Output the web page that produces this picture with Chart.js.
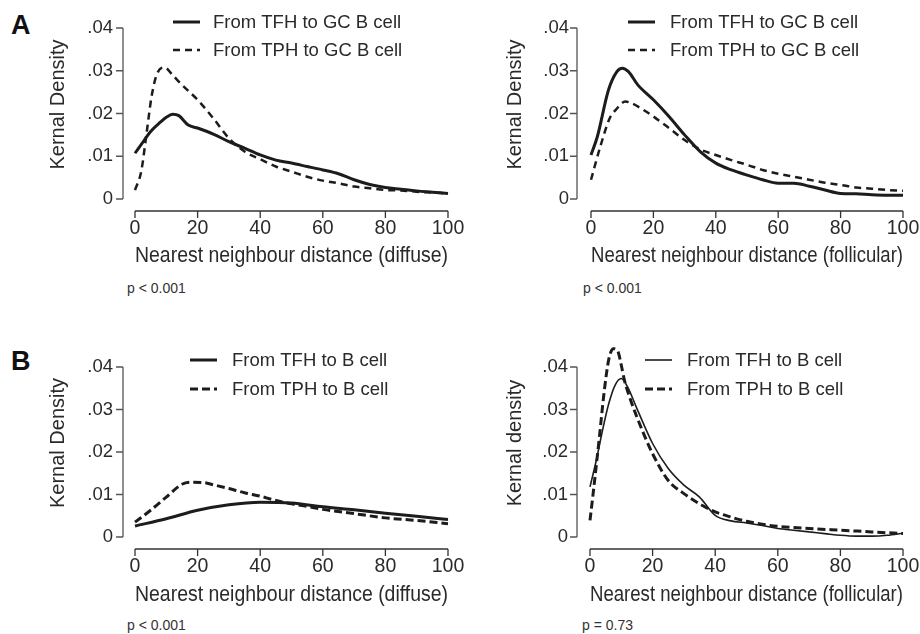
<!DOCTYPE html>
<html>
<head>
<meta charset="utf-8">
<script src="https://cdn.jsdelivr.net/npm/chart.js@4.4.1/dist/chart.umd.min.js"></script>
<style>
  html, body { margin: 0; padding: 0; background: #fff; overflow: hidden; }
  #page { position: relative; width: 920px; height: 634px; font-family: 'Liberation Sans', Arial, sans-serif; color: #222; }
  .panel { position: absolute; }
  .letter { position: absolute; font-weight: bold; font-size: 27px; line-height: 27px; color: #111; }
  .pval { position: absolute; font-size: 14px; line-height: 14px; color: #333; }
</style>
</head>
<body>
<div id="page">
  <div class="letter" style="left:11px; top:12px;">A</div>
  <div class="letter" style="left:11px; top:348px;">B</div>
  <div class="pval" style="left:127px; top:281px;">p &lt; 0.001</div>
  <div class="pval" style="left:583px; top:281px;">p &lt; 0.001</div>
  <div class="pval" style="left:127px; top:618px;">p &lt; 0.001</div>
  <div class="pval" style="left:582px; top:618px;">p = 0.73</div>
</div>
<script>
// ---- data (distance, kernel density) ----
const xTicks = [0, 20, 40, 60, 80, 100];
const yTicks = [0, 0.01, 0.02, 0.03, 0.04];

// A, diffuse: TFH -> GC B cell (solid)
const aDiffTfhX = [0, 3, 5, 8, 10, 12, 14, 17, 20, 25, 30, 35, 40, 45, 50, 55, 60, 65, 70, 75, 80, 85, 90, 95, 100];
const aDiffTfhY = [0.0107, 0.0138, 0.0158, 0.0179, 0.0191, 0.0198, 0.0195, 0.0173, 0.0166, 0.0152, 0.0134, 0.0119, 0.0103, 0.0091, 0.0084, 0.0076, 0.0068, 0.0059, 0.0045, 0.0034, 0.0027, 0.0023, 0.0019, 0.0016, 0.0013];
// A, diffuse: TPH -> GC B cell (dashed)
const aDiffTphX = [0, 2, 3.7, 5.3, 7, 9.4, 12, 15, 20, 25, 30, 35, 40, 45, 50, 55, 60, 65, 70, 75, 80, 85, 90, 95, 100];
const aDiffTphY = [0.0021, 0.0065, 0.0154, 0.024, 0.0292, 0.0308, 0.029, 0.0267, 0.0232, 0.0189, 0.0142, 0.0111, 0.0093, 0.0076, 0.0064, 0.0052, 0.0043, 0.0037, 0.0029, 0.0025, 0.0021, 0.002, 0.0017, 0.0015, 0.0013];

// A, follicular
const aFolTfhX = [0, 2, 5.6, 8.3, 10, 12, 15, 20, 25, 30, 35, 40, 45, 50, 55, 60, 65, 70, 75, 80, 85, 90, 95, 100];
const aFolTfhY = [0.0103, 0.0145, 0.0255, 0.0298, 0.0306, 0.0298, 0.0267, 0.0232, 0.0193, 0.015, 0.0111, 0.0084, 0.0068, 0.0056, 0.0045, 0.0037, 0.0037, 0.003, 0.0021, 0.0013, 0.0012, 0.001, 0.0009, 0.0009];
const aFolTphX = [0, 3, 6, 8, 11, 13, 16, 20, 25, 30, 35, 40, 45, 50, 55, 60, 65, 70, 75, 80, 85, 90, 95, 100];
const aFolTphY = [0.0045, 0.0123, 0.0189, 0.0209, 0.0228, 0.0224, 0.0212, 0.0193, 0.0166, 0.0138, 0.0116, 0.0103, 0.0091, 0.008, 0.0068, 0.0059, 0.0052, 0.0045, 0.0038, 0.0033, 0.0027, 0.0024, 0.0021, 0.0019];

// B, diffuse: TFH/TPH -> B cell
const bDiffTfhX = [0, 10, 20, 30, 40, 50, 60, 70, 80, 90, 100];
const bDiffTfhY = [0.0026, 0.0043, 0.0063, 0.0076, 0.0082, 0.008, 0.0071, 0.0064, 0.0056, 0.0049, 0.0041];
const bDiffTphX = [0, 5, 10, 15, 18, 22, 25, 30, 35, 40, 45, 50, 55, 60, 70, 80, 90, 100];
const bDiffTphY = [0.0035, 0.0063, 0.0094, 0.0124, 0.0129, 0.0128, 0.0123, 0.0114, 0.0104, 0.0096, 0.0086, 0.0078, 0.0072, 0.0065, 0.0055, 0.0045, 0.0039, 0.0031];

// B, follicular
const bFolTfhX = [0, 2, 4, 6, 8, 10, 12, 15, 20, 25, 30, 35, 40, 45, 50, 55, 60, 65, 70, 75, 80, 85, 90, 95, 100];
const bFolTfhY = [0.0118, 0.018, 0.0251, 0.0314, 0.0357, 0.0373, 0.0353, 0.0302, 0.022, 0.0161, 0.0122, 0.0094, 0.0051, 0.0038, 0.0033, 0.0027, 0.002, 0.0016, 0.0012, 0.0008, 0.0004, 0.0002, 0.0002, 0.0004, 0.0009];
const bFolTphX = [0, 1, 3, 4.5, 6, 7.5, 9, 10, 11, 13, 15, 20, 25, 30, 35, 40, 45, 50, 55, 60, 70, 80, 90, 100];
const bFolTphY = [0.0039, 0.0102, 0.0235, 0.034, 0.0418, 0.0443, 0.0435, 0.0404, 0.0369, 0.0322, 0.0282, 0.0196, 0.0133, 0.0102, 0.0078, 0.0059, 0.0047, 0.0037, 0.003, 0.0025, 0.002, 0.0016, 0.0012, 0.0008];

const INK = '#1c1c1c';
const AXIS = '#555';
const FONT = "'Liberation Sans', Arial, sans-serif";

function pts(xs, ys) {
    return xs.map((x, i) => ({ x, y: ys[i] }));
}

function fmtDensity(v) {
    if (Math.abs(v) < 1e-9) return '0';
    return v.toFixed(2).replace(/^0/, '');
}

// no label overflow padding: the plot area is set by hand
function noPad(s) {
    s.paddingLeft = 0;
    s.paddingRight = 0;
    s.paddingTop = 0;
    s.paddingBottom = 0;
}

// Stata-like detached axes, y title and in-plot legend
const stataPlugin = {
    id: 'stata',
    afterDraw(chart, args, opts) {
        const { ctx, chartArea: area } = chart;
        const xs = chart.scales.x;
        const ys = chart.scales.y;
        ctx.save();

        // y axis
        const ax = area.left - opts.yOffset;
        ctx.strokeStyle = AXIS;
        ctx.lineWidth = 1.3;
        ctx.beginPath();
        ctx.moveTo(ax, ys.getPixelForValue(yTicks[yTicks.length - 1]));
        ctx.lineTo(ax, ys.getPixelForValue(0));
        yTicks.forEach((t) => {
            const py = ys.getPixelForValue(t);
            ctx.moveTo(ax, py);
            ctx.lineTo(ax - 7, py);
        });
        ctx.stroke();

        // x axis
        const ay = area.bottom + opts.xOffset;
        ctx.strokeStyle = '#333';
        ctx.beginPath();
        ctx.moveTo(xs.getPixelForValue(0), ay);
        ctx.lineTo(xs.getPixelForValue(100), ay);
        xTicks.forEach((t) => {
            const px = xs.getPixelForValue(t);
            ctx.moveTo(px, ay);
            ctx.lineTo(px, ay + 7);
        });
        ctx.stroke();

        // y title
        ctx.fillStyle = '#2a2a2a';
        ctx.font = `20px ${FONT}`;
        ctx.textAlign = 'center';
        ctx.textBaseline = 'middle';
        ctx.translate(opts.yTitleX, (area.top + area.bottom) / 2 - 9);
        ctx.rotate(-Math.PI / 2);
        ctx.fillText(opts.yTitle, 0, 0);
        ctx.restore();

        // legend
        ctx.save();
        const lg = opts.legend;
        chart.data.datasets.forEach((ds, i) => {
            const y = lg.y[i];
            ctx.strokeStyle = INK;
            ctx.lineWidth = ds.borderWidth;
            ctx.setLineDash(ds.borderDash || []);
            ctx.beginPath();
            ctx.moveTo(lg.x1, y);
            ctx.lineTo(lg.x2, y);
            ctx.stroke();
            ctx.setLineDash([]);
            ctx.fillStyle = '#2a2a2a';
            ctx.font = `18.5px ${FONT}`;
            ctx.textAlign = 'left';
            ctx.textBaseline = 'middle';
            ctx.fillText(ds.label, lg.tx, y + 1);
        });
        ctx.restore();
    }
};

// left panels are a little wider than half so the "100" label is not cut;
// the right panels sit on top with a transparent canvas
const panels = [
    {
        left: 0, top: 0, w: 475, h: 295,
        area: { l: 135, r: 448, t: 28, b: 199 },
        xTitle: 'Nearest neighbour distance (diffuse)', yTitle: 'Kernal Density', yTitleX: 58,
        yOffset: 12, legend: { x1: 173, x2: 200, tx: 213, y: [22, 50] },
        series: [
            { label: 'From TFH to GC B cell', data: pts(aDiffTfhX, aDiffTfhY), width: 3, dash: [] },
            { label: 'From TPH to GC B cell', data: pts(aDiffTphX, aDiffTphY), width: 2.5, dash: [7, 5] }
        ]
    },
    {
        left: 460, top: 0, w: 460, h: 295,
        area: { l: 131, r: 443, t: 28, b: 199 },
        xTitle: 'Nearest neighbour distance (follicular)', yTitle: 'Kernal Density', yTitleX: 55,
        yOffset: 14, legend: { x1: 168, x2: 195, tx: 210, y: [22, 50] },
        series: [
            { label: 'From TFH to GC B cell', data: pts(aFolTfhX, aFolTfhY), width: 3, dash: [] },
            { label: 'From TPH to GC B cell', data: pts(aFolTphX, aFolTphY), width: 2.5, dash: [7, 5] }
        ]
    },
    {
        left: 0, top: 339, w: 475, h: 295,
        area: { l: 135, r: 448, t: 28, b: 198 },
        xTitle: 'Nearest neighbour distance (diffuse)', yTitle: 'Kernal Density', yTitleX: 58,
        yOffset: 12, legend: { x1: 190, x2: 217, tx: 232, y: [21, 50] },
        series: [
            { label: 'From TFH to B cell', data: pts(bDiffTfhX, bDiffTfhY), width: 3, dash: [] },
            { label: 'From TPH to B cell', data: pts(bDiffTphX, bDiffTphY), width: 3, dash: [8, 4] }
        ]
    },
    {
        left: 460, top: 339, w: 460, h: 295,
        area: { l: 130, r: 443, t: 28, b: 198 },
        xTitle: 'Nearest neighbour distance (follicular)', yTitle: 'Kernal density', yTitleX: 55,
        yOffset: 13, legend: { x1: 185, x2: 212, tx: 227, y: [21, 50] },
        series: [
            { label: 'From TFH to B cell', data: pts(bFolTfhX, bFolTfhY), width: 1.6, dash: [] },
            { label: 'From TPH to B cell', data: pts(bFolTphX, bFolTphY), width: 3, dash: [8, 4] }
        ]
    }
];

function renderPanel(p) {
    const page = document.getElementById('page');
    const box = document.createElement('div');
    box.className = 'panel';
    box.style.cssText = `left:${p.left}px;top:${p.top}px;width:${p.w}px;height:${p.h}px;`;
    const canvas = document.createElement('canvas');
    box.appendChild(canvas);
    page.appendChild(box);

    const xScaleH = p.h - p.area.b;

    return new Chart(canvas, {
        type: 'line',
        data: {
            datasets: p.series.map((s) => ({
                label: s.label,
                data: s.data,
                borderColor: INK,
                borderWidth: s.width,
                borderDash: s.dash,
                pointRadius: 0,
                fill: false,
                tension: 0.4,
                cubicInterpolationMode: 'monotone',
                clip: false
            }))
        },
        options: {
            responsive: true,
            maintainAspectRatio: false,
            animation: false,
            layout: {
                autoPadding: false,
                padding: { top: p.area.t, right: p.w - p.area.r, bottom: 0, left: 0 }
            },
            plugins: {
                legend: { display: false },
                tooltip: { enabled: false },
                stata: {
                    yOffset: p.yOffset,
                    xOffset: 12,
                    yTitle: p.yTitle,
                    yTitleX: p.yTitleX,
                    legend: p.legend
                }
            },
            scales: {
                x: {
                    type: 'linear',
                    min: 0,
                    max: 100,
                    afterFit: (s) => { s.height = xScaleH; noPad(s); },
                    afterBuildTicks: (s) => { s.ticks = xTicks.map((v) => ({ value: v })); },
                    grid: { display: false, drawTicks: false },
                    border: { display: false },
                    ticks: {
                        padding: 18,
                        maxRotation: 0,
                        autoSkip: false,
                        color: '#2a2a2a',
                        font: { family: FONT, size: 19.5 }
                    },
                    title: {
                        display: true,
                        text: p.xTitle,
                        color: '#2a2a2a',
                        font: { family: FONT, size: 22 },
                        padding: { top: 0, bottom: 26 }
                    }
                },
                y: {
                    type: 'linear',
                    min: 0,
                    max: 0.04,
                    afterFit: (s) => { s.width = p.area.l; noPad(s); },
                    afterBuildTicks: (s) => { s.ticks = yTicks.map((v) => ({ value: v })); },
                    grid: { display: false, drawTicks: false },
                    border: { display: false },
                    ticks: {
                        padding: 22,
                        autoSkip: false,
                        color: '#2a2a2a',
                        font: { family: FONT, size: 18.5 },
                        callback: (v) => fmtDensity(v)
                    }
                }
            }
        },
        plugins: [stataPlugin]
    });
}

panels.forEach(renderPanel);
</script>
</body>
</html>
